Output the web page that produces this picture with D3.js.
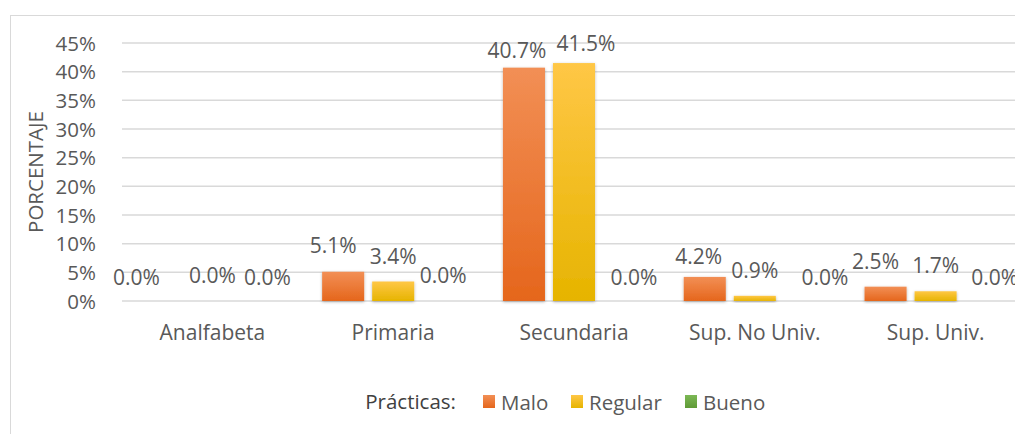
<!DOCTYPE html>
<html>
<head>
<meta charset="utf-8">
<script src="https://cdn.jsdelivr.net/npm/d3@7"></script>
<style>
  body { margin: 0; background: #fff; }
  svg text { font-family: "Open Sans", "Noto Sans", sans-serif; fill: #595959; }
</style>
</head>
<body>
<div id="chart"></div>
<script>
const width = 1015;
const height = 434;

// data
const categories = ["Analfabeta", "Primaria", "Secundaria", "Sup. No Univ.", "Sup. Univ."];
const seriesNames = ["Malo", "Regular", "Bueno"];
const malo    = [0.0, 5.1, 40.7, 4.2, 2.5];
const regular = [0.0, 3.4, 41.5, 0.9, 1.7];
const bueno   = [0.0, 0.0, 0.0, 0.0, 0.0];
const yTicks  = [0, 5, 10, 15, 20, 25, 30, 35, 40, 45];

const margin = { top: 43, right: -11, bottom: 133, left: 122 };

const svg = d3.select("#chart").append("svg")
   .attr("width", width)
   .attr("height", height);

const defs = svg.append("defs");
const grads = [
   { id: "gMalo", top: "#f28f55", bottom: "#e5661c" },
   { id: "gRegular", top: "#ffc746", bottom: "#e6b400" },
   { id: "gBueno", top: "#7cb855", bottom: "#5f9a36" }
];
grads.forEach(g => {
   const lg = defs.append("linearGradient")
      .attr("id", g.id)
      .attr("x1", 0).attr("y1", 0).attr("x2", 0).attr("y2", 1);
   lg.append("stop").attr("offset", "0%").attr("stop-color", g.top);
   lg.append("stop").attr("offset", "100%").attr("stop-color", g.bottom);
});
const shadow = defs.append("filter").attr("id", "shadow")
   .attr("x", "-20%").attr("y", "-20%").attr("width", "140%").attr("height", "140%");
shadow.append("feDropShadow")
   .attr("dx", 0).attr("dy", 1).attr("stdDeviation", 1.5)
   .attr("flood-color", "#000").attr("flood-opacity", 0.3);

// chart border
svg.append("rect")
   .attr("x", 10.5).attr("y", 15.5)
   .attr("width", 1010).attr("height", 430)
   .attr("fill", "none")
   .attr("stroke", "#d9d9d9")
   .attr("stroke-width", 1);

const x0 = d3.scaleBand()
   .domain(categories)
   .range([margin.left, width - margin.right])
   .paddingInner(0.214)
   .paddingOuter(0.107);

const x1 = d3.scaleBand()
   .domain(seriesNames)
   .range([0, x0.bandwidth()])
   .paddingInner(0.16);

const y = d3.scaleLinear()
   .domain([0, 45])
   .range([height - margin.bottom, margin.top]);

// gridlines
svg.append("g")
   .selectAll("line")
   .data(yTicks)
   .join("line")
   .attr("x1", margin.left)
   .attr("x2", width - margin.right)
   .attr("y1", d => y(d))
   .attr("y2", d => y(d))
   .attr("stroke", "#d9d9d9")
   .attr("stroke-width", 1.5);

const yAxis = svg.append("g")
   .attr("transform", `translate(${margin.left - 23},0)`)
   .call(d3.axisLeft(y).tickValues(yTicks).tickSize(0).tickFormat(d => d + "%"));
yAxis.select(".domain").remove();
yAxis.selectAll("text")
   .attr("dy", "0.35em")
   .style("font-size", "20.5px")
   .style("font-family", "'Open Sans', sans-serif")
   .attr("fill", "#595959");

svg.append("text")
   .attr("transform", `translate(43, 172) rotate(-90)`)
   .style("text-anchor", "middle")
   .style("font-size", "20.5px")
   .text("PORCENTAJE");

// category labels
svg.append("g")
   .selectAll("text")
   .data(categories)
   .join("text")
   .attr("x", d => x0(d) + x0.bandwidth() / 2)
   .attr("y", 340)
   .style("text-anchor", "middle")
   .style("font-size", "21px")
   .text(d => d);

const rows = [];
categories.forEach((c, i) => {
   rows.push({ cat: c, s: "Malo", v: malo[i] });
   rows.push({ cat: c, s: "Regular", v: regular[i] });
   rows.push({ cat: c, s: "Bueno", v: bueno[i] });
});
const fillFor = { Malo: "url(#gMalo)", Regular: "url(#gRegular)", Bueno: "url(#gBueno)" };

svg.append("g")
   .selectAll("rect")
   .data(rows.filter(d => d.v > 0))
   .join("rect")
   .attr("x", d => x0(d.cat) + x1(d.s))
   .attr("y", d => y(d.v))
   .attr("width", x1.bandwidth())
   .attr("height", d => y(0) - y(d.v))
   .attr("fill", d => fillFor[d.s])
   .attr("filter", "url(#shadow)");

// excel moved a few labels sideways to avoid overlaps
const nudge = {
   "Analfabeta|Malo": [-26, -16],
   "Analfabeta|Bueno": [5, -16],
   "Primaria|Malo": [-10, -19],
   "Secundaria|Malo": [-7, -10],
   "Secundaria|Regular": [12, -12],
   "Secundaria|Bueno": [10, -16],
   "Sup. No Univ.|Malo": [-6, -13],
   "Sup. No Univ.|Bueno": [20, -16],
   "Sup. Univ.|Malo": [-10, -18],
   "Sup. Univ.|Bueno": [9, -16]
};

svg.append("g")
   .selectAll("text")
   .data(rows)
   .join("text")
   .attr("x", d => x0(d.cat) + x1(d.s) + x1.bandwidth() / 2 + (nudge[d.cat + "|" + d.s] || [0, -18])[0])
   .attr("y", d => y(d.v) + (nudge[d.cat + "|" + d.s] || [0, -18])[1])
   .style("text-anchor", "middle")
   .style("font-size", "21px")
   .text(d => d.v.toFixed(1) + "%");

// legend
const legend = svg.append("g").attr("transform", "translate(0, 402)");
legend.append("text")
   .attr("x", 456)
   .attr("y", 7)
   .style("text-anchor", "end")
   .style("font-size", "20.5px")
   .style("fill", "#404040")
   .text("Prácticas:");

const legendX = [483, 571, 685];
seriesNames.forEach((s, i) => {
   legend.append("rect")
      .attr("x", legendX[i])
      .attr("y", -7)
      .attr("width", 12)
      .attr("height", 13)
      .attr("fill", fillFor[s]);
   legend.append("text")
      .attr("x", legendX[i] + 18)
      .attr("y", 7.5)
      .style("font-size", "20.5px")
      .text(s);
});
</script>
</body>
</html>
